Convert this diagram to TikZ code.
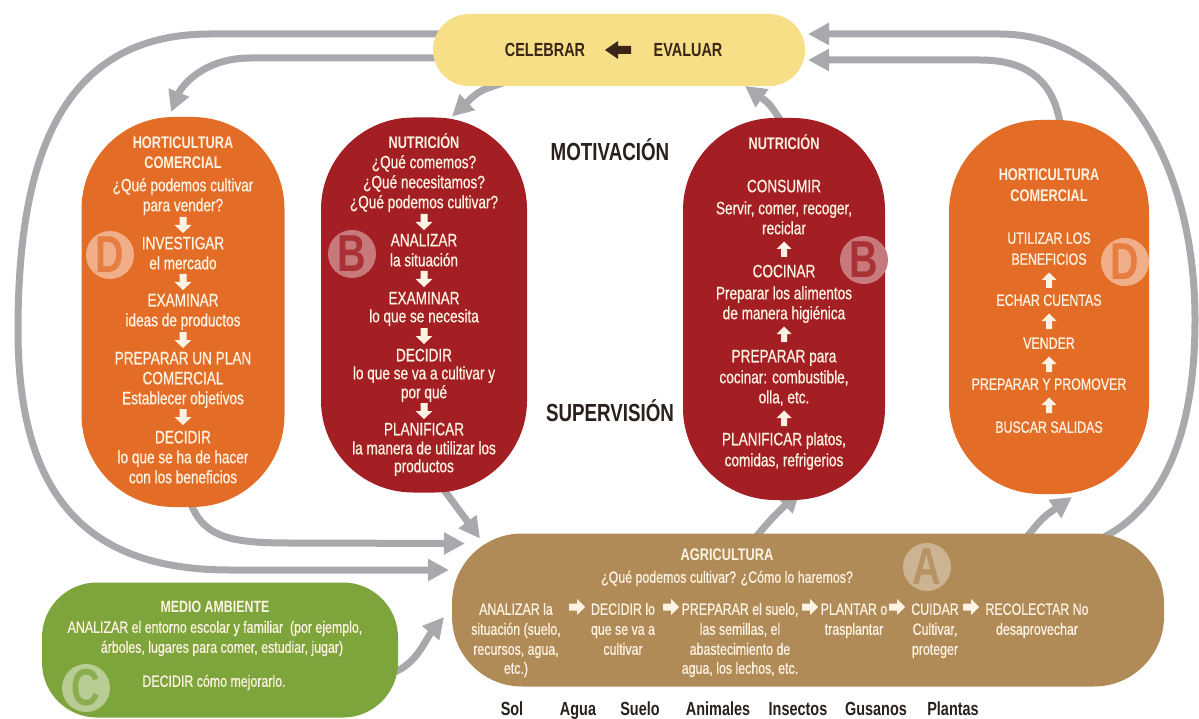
\documentclass[tikz,border=0pt]{standalone}
\usepackage{fontspec}
\setmainfont{Liberation Sans}[FakeStretch=0.76, UprightFeatures={FakeBold=0.6}]
\usetikzlibrary{arrows.meta,calc,backgrounds}
\definecolor{cyel}{HTML}{F6DF86}
\definecolor{corg}{HTML}{E36D27}
\definecolor{cred}{HTML}{A31F24}
\definecolor{cbrn}{HTML}{B08B57}
\definecolor{cgrn}{HTML}{7DA53B}
\definecolor{cgry}{HTML}{A8A9AD}
\definecolor{ctxt}{HTML}{FFF3E3}
\definecolor{cdark}{HTML}{2A201C}
\definecolor{cyeltxt}{HTML}{3A2618}
\begin{document}
\begin{tikzpicture}[x=1pt,y=-1pt,
  box/.style={inner sep=0pt, outer sep=0pt, draw=none},
  conn/.style={draw=cgry, line width=7pt, -{Triangle[length=21pt,width=21pt]}},
  tx/.style={text=ctext, font=\fontsize{17.9}{20}\selectfont, inner sep=0pt, text height=12.5pt, text depth=0pt},
  txs/.style={text=ctext, font=\fontsize{16.3}{18}\selectfont, inner sep=0pt, text height=11.5pt, text depth=0pt},
  ttl/.style={text=ctext, font=\bfseries\fontsize{16.8}{18}\selectfont, inner sep=0pt, text height=12pt, text depth=0pt},
  big/.style={text=cdark, font=\bfseries\fontsize{24.7}{26}\selectfont, inner sep=0pt, text height=17.5pt, text depth=0pt},
  lab/.style={text=cdark, font=\bfseries\fontsize{19}{20}\selectfont, inner sep=0pt, text height=13.5pt, text depth=0pt},
  letterc/.style={circle, inner sep=0pt, minimum size=48pt, font=\bfseries\fontsize{52}{52}\selectfont},
  darr/.pic={\fill[ctxt] (-3.5,-8) -- (3.5,-8) -- (3.5,0) -- (8.5,0) -- (0,8) -- (-8.5,0) -- (-3.5,0) -- cycle;},
  uarr/.pic={\fill[ctxt] (-3,8) -- (3,8) -- (3,0) -- (7.5,0) -- (0,-7.5) -- (-7.5,0) -- (-3,0) -- cycle;},
  rarr/.pic={\fill[ctxt] (-8,-3.5) -- (0,-3.5) -- (0,-8) -- (8,0) -- (0,8) -- (0,3.5) -- (-8,3.5) -- cycle;},
  larr/.pic={\fill[cyeltxt] (13,-4) -- (0,-4) -- (0,-9) -- (-13,0) -- (0,9) -- (0,4) -- (13,4) -- cycle;}
]
\colorlet{ctext}{ctxt}
\useasboundingbox (0,0) rectangle (1199,719);

% ---------- boxes ----------
\node[box, fill=cyel, minimum width=372pt, minimum height=72pt, rounded corners=36pt] (yel) at (619,50) {};
\node[box, fill=corg, minimum width=203pt, minimum height=390pt, rounded corners=92pt] (dL) at (183,312) {};
\node[box, fill=cred, minimum width=206pt, minimum height=375pt, rounded corners=92pt] (bL) at (424,305) {};
\node[box, fill=cred, minimum width=202pt, minimum height=382pt, rounded corners=92pt] (bR) at (784,309) {};
\node[box, fill=corg, minimum width=200pt, minimum height=374pt, rounded corners=92pt] (dR) at (1049,307) {};
\node[box, fill=cbrn, minimum width=712pt, minimum height=153pt, rounded corners=70pt] (ag) at (808,610) {};
\node[box, fill=cgrn, minimum width=356pt, minimum height=135pt, rounded corners=55pt] (gr) at (220,650) {};

% ---------- connectors (behind boxes) ----------
\begin{pgfonlayer}{background}
\fill[white] (0,0) rectangle (1199,719);
% outer left loop
\draw[conn] ($(yel.west)+(20,-16)$) -- (210,34) .. controls (60,34) and (18,160) .. (18,330)
   .. controls (18,500) and (90,570) .. (230,570) -- ($(ag.west)+(-3,-40)$);
% inner left to D
\draw[conn] ($(yel.west)+(20,8)$) -- (250,58) .. controls (205,58) and (182,85) .. ($(dL.north)+(-12,-5)$);
% yellow to left B
\draw[conn] ($(yel.south west)+(80,-6)$) .. controls (480,90) .. ($(bL.north)+(28,-1)$);
% D left bottom to agriculture
\draw[conn] ($(dL.south)+(5,-12)$) .. controls (200,538) and (230,543) .. (290,543) -- ($(ag.north west)+(13,10)$);
% B left bottom to agriculture
\draw[conn] ($(bL.south)+(16,-8)$) -- ($(ag.north west)+(28,5)$);
% green to agriculture
\draw[conn] ($(gr.east)+(-10,24)$) .. controls (415,668) and (425,640) .. ($(ag.west)+(-8,7)$);
% agriculture to right B
\draw[conn] ($(ag.north)+(-56,8)$) .. controls (772,518) .. ($(bR.south)+(16,-9)$);
% agriculture to right D
\draw[conn] ($(ag.north)+(212,12)$) .. controls (1042,518) .. ($(dR.south)+(23,3)$);
% outer right loop
\draw[conn] ($(ag.north east)+(-80,12)$) .. controls (1160,520) and (1195,440) .. (1195,320)
   .. controls (1195,150) and (1110,34) .. (1000,34) -- ($(yel.east)+(3,-16)$);
% inner right from D to yellow
\draw[conn] ($(dR.north)+(12,10)$) .. controls (1055,75) and (1020,60) .. (980,60) -- ($(yel.east)+(3,10)$);
% right B to yellow
\draw[conn] ($(bR.north)+(0,8)$) .. controls (770,104) .. ($(yel.south east)+(-60,0)$);
\end{pgfonlayer}

% ---------- top box ----------
\node[lab, text=cyeltxt] (cel) at (545,50) {CELEBRAR};
\pic at (618,50) {larr};
\node[lab, text=cyeltxt] (eva) at (688,50) {EVALUAR};

\node[big] (mot) at (610,152) {MOTIVACIÓN};
\node[big] (sup) at (610,413) {SUPERVISIÓN};

% ---------- letter circles ----------
\node[letterc, fill=corg!55!white, text=corg!88!white] (dLl) at (110,255) {D};
\node[letterc, fill=cred!60!white, text=cred!92!white] (bLl) at (352,254) {B};
\node[letterc, fill=cred!60!white, text=cred!92!white] (bRl) at (864,260) {B};
\node[letterc, fill=corg!55!white, text=corg!88!white] (dRl) at (1125,262) {D};
\node[letterc, fill=cbrn!65!white, text=cbrn!92!white] (agl) at (927,567) {A};
\node[letterc, fill=cgrn!55!white, text=cgrn!90!white] (grl) at (86,688) {C};

% ---------- left D ----------
\node[ttl] (dLt1) at (183,143) {HORTICULTURA};
\node[ttl] (dLt2) at (183,163) {COMERCIAL};
\foreach \y/\t [count=\i] in {185/{¿Qué podemos cultivar}, 205/{para vender?}, 243/{INVESTIGAR}, 263/{el mercado},
   300/{EXAMINAR}, 320/{ideas de productos}, 358/{PREPARAR UN PLAN}, 378/{COMERCIAL}, 398/{Establecer objetivos},
   437/{DECIDIR}, 457/{lo que se ha de hacer}, 477/{con los beneficios}}
  \node[tx] (dLx\i) at (183,\y) {\t};
\foreach \y in {225,282,340,417} \pic at (183,\y) {darr};

% ---------- left B ----------
\node[ttl] (bLt1) at (424,143) {NUTRICIÓN};
\foreach \y/\t [count=\i] in {162/{¿Qué comemos?}, 182/{¿Qué necesitamos?}, 202/{¿Qué podemos cultivar?},
   240/{ANALIZAR}, 260/{la situación}, 298/{EXAMINAR}, 316/{lo que se necesita}, 355/{DECIDIR},
   373/{lo que se va a cultivar y}, 392/{por qué}, 429/{PLANIFICAR}, 448/{la manera de utilizar los}, 466/{productos}}
  \node[tx] (bLx\i) at (424,\y) {\t};
\foreach \y in {222,279,336,411} \pic at (424,\y) {darr};

% ---------- right B ----------
\node[ttl] (bRt1) at (784,144) {NUTRICIÓN};
\foreach \y/\t [count=\i] in {186/{CONSUMIR}, 208/{Servir, comer, recoger,}, 228/{reciclar}, 271/{COCINAR},
   293/{Preparar los alimentos}, 313/{de manera higiénica}, 356/{PREPARAR para}, 377/{cocinar: combustible,},
   397/{olla, etc.}, 439/{PLANIFICAR platos,}, 460/{comidas, refrigerios}}
  \node[tx] (bRx\i) at (784,\y) {\t};
\foreach \y in {249,334,418} \pic at (784,\y) {uarr};

% ---------- right D ----------
\node[ttl] (dRt1) at (1049,175) {HORTICULTURA};
\node[ttl] (dRt2) at (1049,196) {COMERCIAL};
\foreach \y/\t [count=\i] in {238/{UTILIZAR LOS}, 259/{BENEFICIOS}, 300/{ECHAR CUENTAS}, 343/{VENDER},
   384/{PREPARAR Y PROMOVER}, 427/{BUSCAR SALIDAS}}
  \node[txs] (dRx\i) at (1049,\y) {\t};
\foreach \y in {280,321,364,405} \pic at (1049,\y) {uarr};

% ---------- agriculture ----------
\node[ttl] (agt) at (727,554) {AGRICULTURA};
\node[txs] (agq) at (727,577) {¿Qué podemos cultivar? ¿Cómo lo haremos?};
\foreach \y/\t [count=\i] in {609/{ANALIZAR la}, 629/{situación (suelo,}, 649/{recursos, agua,}, 668/{etc.)}}
  \node[txs] (ag1x\i) at (516,\y) {\t};
\foreach \y/\t [count=\i] in {609/{DECIDIR lo}, 629/{que se va a}, 649/{cultivar}}
  \node[txs] (ag2x\i) at (623,\y) {\t};
\foreach \y/\t [count=\i] in {609/{PREPARAR el suelo,}, 629/{las semillas, el}, 649/{abastecimiento de}, 668/{agua, los lechos, etc.}}
  \node[txs] (ag3x\i) at (740,\y) {\t};
\foreach \y/\t [count=\i] in {609/{PLANTAR o}, 629/{trasplantar}}
  \node[txs] (ag4x\i) at (854,\y) {\t};
\foreach \y/\t [count=\i] in {609/{CUIDAR}, 629/{Cultivar,}, 649/{proteger}}
  \node[txs] (ag5x\i) at (935,\y) {\t};
\foreach \y/\t [count=\i] in {609/{RECOLECTAR No}, 629/{desaprovechar}}
  \node[txs] (ag6x\i) at (1037,\y) {\t};
\foreach \x in {577,671,810,897,971} \pic at (\x,607) {rarr};

% ---------- green ----------
\node[ttl, font=\bfseries\fontsize{16.3}{18}\selectfont] (grt) at (215,606) {MEDIO AMBIENTE};
\node[txs] (grx1) at (215,627) {ANALIZAR el entorno escolar y familiar~ (por ejemplo,};
\node[txs] (grx2) at (222,647) {árboles, lugares para comer, estudiar, jugar)};
\node[txs] (grx3) at (214,681) {DECIDIR cómo mejorarlo.};

% ---------- bottom labels ----------
\foreach \x/\t [count=\i] in {512/Sol, 578/Agua, 640/Suelo, 718/Animales, 798/Insectos, 876/Gusanos, 953/Plantas}
  \node[lab] (bl\i) at (\x,709) {\t};
\end{tikzpicture}
\end{document}
